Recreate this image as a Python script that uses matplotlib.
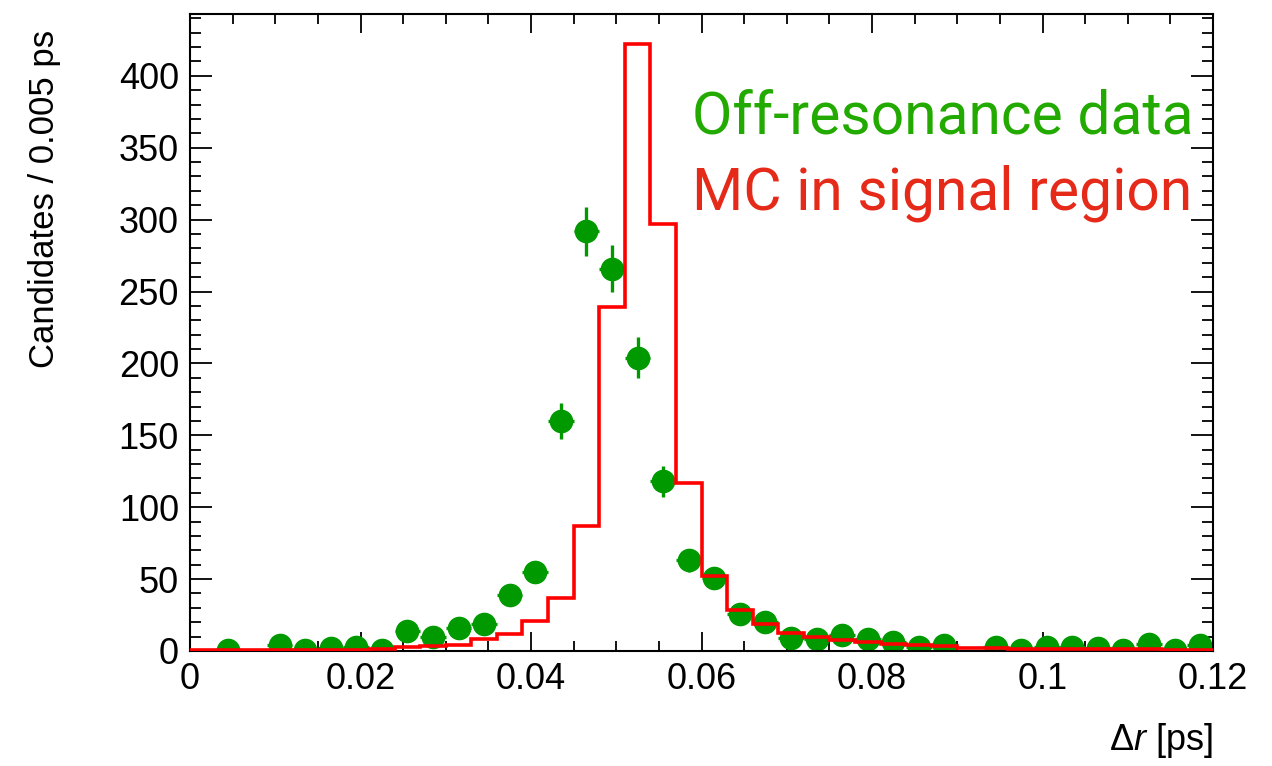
import numpy as np
import matplotlib
matplotlib.use("Agg")
import matplotlib.pyplot as plt
from matplotlib.ticker import MultipleLocator

# ---------------- data ----------------
bin_width = 0.003
x_min, x_max = 0.0, 0.12

# MC in signal region: 40 bins of 0.003 ps
mc_counts = [0.5, 0.5, 0.5, 0.5, 0.7, 1.0, 1.0, 1.5, 2.5, 3.5,
             4.5, 8.0, 12.0, 21.0, 37.0, 87.0, 239.0, 422.0, 297.0, 117.0,
             52.0, 28.5, 18.5, 12.5, 10.0, 7.5, 6.0, 5.0, 4.0, 3.5,
             2.0, 1.8, 1.6, 1.5, 1.4, 1.3, 1.2, 1.1, 1.0, 1.0]

# Off-resonance data: 40 bins of 0.003 ps (0 = empty bin, not drawn)
data_counts = [0, 1, 0, 4, 1, 2, 3, 1, 14, 10,
               16, 19, 39, 55, 160, 292, 266, 204, 118, 63,
               51, 26, 20, 9, 8, 11, 8, 6, 3, 4,
               0, 3, 1, 3, 3, 2, 1, 5, 1, 4]
data_errors = [0, 1.0, 0, 2.0, 1.0, 1.4, 1.7, 1.0, 3.7, 3.2,
               4.0, 4.4, 6.2, 7.4, 12.6, 17.1, 16.3, 14.3, 10.9, 7.9,
               7.1, 5.1, 4.5, 3.0, 2.8, 3.3, 2.8, 2.4, 1.7, 2.0,
               0, 1.7, 1.0, 1.7, 1.7, 1.4, 1.0, 2.2, 1.0, 2.0]

x_ticks = [0.0, 0.02, 0.04, 0.06, 0.08, 0.10, 0.12]
x_tick_labels = ["0", "0.02", "0.04", "0.06", "0.08", "0.1", "0.12"]
y_ticks = [0, 50, 100, 150, 200, 250, 300, 350, 400]
y_tick_labels = ["0", "50", "100", "150", "200", "250", "300", "350", "400"]
y_max = 443

legend_labels = ["Off-resonance data", "MC in signal region"]
x_title = r"$\Delta r$ [ps]"
y_title = "Candidates / 0.005 ps"

# ---------------- style ----------------
plt.rcParams["font.family"] = ["Liberation Sans", "DejaVu Sans"]
plt.rcParams["mathtext.fontset"] = "custom"
plt.rcParams["mathtext.rm"] = "Liberation Sans"
plt.rcParams["mathtext.it"] = "Liberation Sans:italic"

W, H = 1272, 766
fig = plt.figure(figsize=(W / 100, H / 100), dpi=100)
ax = fig.add_axes([190 / W, 1 - 651 / H, (1213 - 190) / W, (651 - 14) / H])

edges = np.arange(len(mc_counts) + 1) * bin_width + x_min
centers = 0.5 * (edges[:-1] + edges[1:])

dc = np.array(data_counts, dtype=float)
de = np.array(data_errors, dtype=float)
mask = dc > 0

data_color = "#009a00"
ax.errorbar(centers[mask], dc[mask], yerr=de[mask], xerr=bin_width / 2,
            fmt="o", ms=16, color=data_color, mec=data_color,
            elinewidth=2.4, capsize=0, zorder=2)

ax.stairs(mc_counts, edges, color="#ff0000", linewidth=2.6, baseline=None, zorder=3)

ax.set_xlim(x_min, x_max)
ax.set_ylim(0, y_max)
ax.set_xticks(x_ticks)
ax.set_xticklabels(x_tick_labels)
ax.set_yticks(y_ticks)
ax.set_yticklabels(y_tick_labels)
ax.xaxis.set_minor_locator(MultipleLocator(0.005))
ax.yaxis.set_minor_locator(MultipleLocator(10))

for s in ax.spines.values():
    s.set_linewidth(1.5)
    s.set_color("black")

ax.tick_params(axis="both", which="both", direction="in", top=True, right=True,
               width=1.3, colors="black", labelsize=26)
ax.tick_params(axis="x", which="major", length=14, pad=8)
ax.tick_params(axis="x", which="minor", length=7)
ax.tick_params(axis="y", which="major", length=16, pad=8)
ax.tick_params(axis="y", which="minor", length=8)

# axis titles (ROOT style: at the far end of the axes)
fig.text(1213 / W, 1 - 750 / H, x_title, ha="right", va="baseline", fontsize=26)
fig.text(45 / W, 1 - 30 / H, y_title, ha="center", va="top", rotation=90, fontsize=25)

# legend text
fig.text(692 / W, 1 - 134 / H, legend_labels[0], ha="left", va="baseline",
         fontsize=42.3, color="#22aa00", family=["Roboto", "DejaVu Sans"])
fig.text(692 / W, 1 - 210 / H, legend_labels[1], ha="left", va="baseline",
         fontsize=42.3, color="#e62a1a", family=["Roboto", "DejaVu Sans"])

fig.savefig("out.png", dpi=100)
